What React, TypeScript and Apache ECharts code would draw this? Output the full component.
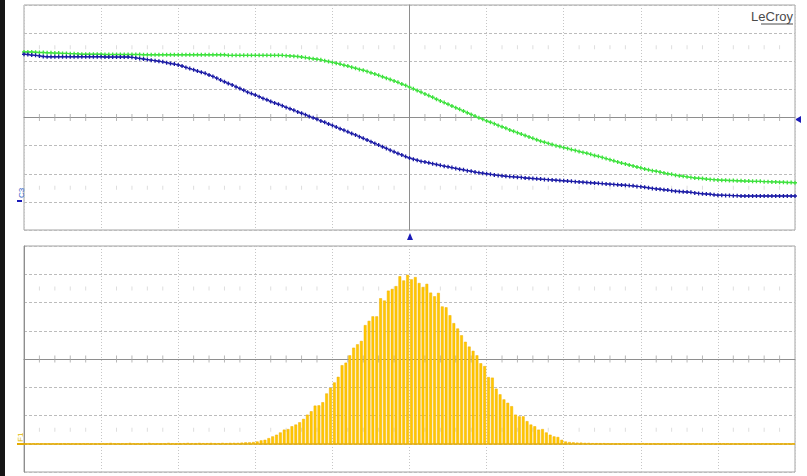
import React, { useEffect, useRef } from "react";
import * as echarts from "echarts";

// Time axis: divisions relative to trigger (-5 .. +5), sample step in divisions
const TIME_START = -5;
const TIME_STEP = 0.05;
const BIN_WIDTH = 0.05;

// Top panel, vertical divisions
const greenTrace = [
  2.33, 2.33, 2.33, 2.32, 2.31, 2.31, 2.30, 2.30, 2.29, 2.29,
  2.28, 2.28, 2.27, 2.27, 2.26, 2.25, 2.25, 2.25, 2.25, 2.25,
  2.25, 2.24, 2.24, 2.24, 2.24, 2.24, 2.24, 2.24, 2.24, 2.24,
  2.24, 2.23, 2.23, 2.23, 2.23, 2.23, 2.23, 2.23, 2.23, 2.23,
  2.23, 2.23, 2.23, 2.23, 2.23, 2.23, 2.23, 2.23, 2.23, 2.23,
  2.23, 2.23, 2.23, 2.21, 2.21, 2.21, 2.21, 2.21, 2.21, 2.21,
  2.21, 2.21, 2.21, 2.21, 2.21, 2.21, 2.21, 2.21, 2.20, 2.19,
  2.18, 2.17, 2.15, 2.13, 2.11, 2.09, 2.07, 2.05, 2.02, 1.99,
  1.96, 1.93, 1.90, 1.86, 1.83, 1.79, 1.75, 1.71, 1.68, 1.64,
  1.59, 1.55, 1.50, 1.45, 1.40, 1.35, 1.30, 1.25, 1.19, 1.14,
  1.08, 1.02, 0.96, 0.90, 0.84, 0.78, 0.72, 0.65, 0.59, 0.53,
  0.47, 0.41, 0.35, 0.29, 0.23, 0.17, 0.11, 0.05, -0.01, -0.06,
  -0.12, -0.17, -0.22, -0.28, -0.33, -0.38, -0.44, -0.49, -0.54, -0.59,
  -0.64, -0.69, -0.74, -0.79, -0.84, -0.88, -0.92, -0.96, -1.00, -1.03,
  -1.07, -1.10, -1.14, -1.17, -1.21, -1.24, -1.27, -1.31, -1.35, -1.38,
  -1.42, -1.46, -1.50, -1.54, -1.58, -1.62, -1.65, -1.69, -1.72, -1.76,
  -1.79, -1.83, -1.86, -1.89, -1.91, -1.94, -1.97, -2.00, -2.02, -2.05,
  -2.07, -2.09, -2.11, -2.13, -2.15, -2.16, -2.17, -2.19, -2.20, -2.21,
  -2.22, -2.23, -2.23, -2.24, -2.24, -2.25, -2.25, -2.26, -2.26, -2.27,
  -2.27, -2.27, -2.28, -2.28, -2.29, -2.29, -2.30, -2.30, -2.31, -2.31,
  -2.32,
];

const blueTrace = [
  2.25, 2.24, 2.22, 2.21, 2.19, 2.17, 2.16, 2.16, 2.16, 2.16,
  2.16, 2.16, 2.16, 2.16, 2.16, 2.16, 2.16, 2.16, 2.16, 2.16,
  2.16, 2.15, 2.15, 2.15, 2.15, 2.15, 2.15, 2.15, 2.14, 2.12,
  2.10, 2.08, 2.06, 2.04, 2.02, 2.00, 1.98, 1.95, 1.92, 1.90,
  1.87, 1.83, 1.78, 1.74, 1.70, 1.65, 1.61, 1.57, 1.51, 1.46,
  1.40, 1.33, 1.27, 1.21, 1.16, 1.09, 1.03, 0.97, 0.90, 0.85,
  0.80, 0.74, 0.68, 0.63, 0.57, 0.52, 0.47, 0.42, 0.36, 0.31,
  0.26, 0.20, 0.15, 0.10, 0.04, -0.01, -0.06, -0.12, -0.17, -0.23,
  -0.28, -0.34, -0.40, -0.45, -0.51, -0.57, -0.62, -0.68, -0.74, -0.80,
  -0.86, -0.92, -0.98, -1.04, -1.10, -1.16, -1.22, -1.28, -1.33, -1.39,
  -1.44, -1.48, -1.52, -1.56, -1.58, -1.61, -1.64, -1.67, -1.70, -1.73,
  -1.75, -1.78, -1.81, -1.84, -1.86, -1.89, -1.91, -1.94, -1.96, -1.98,
  -2.00, -2.02, -2.04, -2.06, -2.07, -2.09, -2.10, -2.11, -2.12, -2.13,
  -2.15, -2.16, -2.17, -2.18, -2.19, -2.20, -2.21, -2.22, -2.23, -2.24,
  -2.25, -2.26, -2.27, -2.28, -2.29, -2.30, -2.31, -2.32, -2.33, -2.34,
  -2.35, -2.36, -2.37, -2.38, -2.39, -2.40, -2.41, -2.42, -2.43, -2.45,
  -2.46, -2.48, -2.50, -2.52, -2.54, -2.55, -2.57, -2.58, -2.60, -2.62,
  -2.63, -2.64, -2.65, -2.66, -2.68, -2.70, -2.71, -2.72, -2.73, -2.75,
  -2.76, -2.76, -2.77, -2.77, -2.78, -2.78, -2.79, -2.79, -2.79, -2.79,
  -2.79, -2.79, -2.79, -2.79, -2.79, -2.79, -2.79, -2.79, -2.79, -2.79,
  -2.79,
];

// Bottom panel histogram, bin heights in divisions (200 bins)
const histogramCounts = [
  0, 0, 0, 0, 0, 0, 0, 0, 0, 0,
  0, 0, 0, 0, 0, 0, 0, 0, 0, 0,
  0, 0, 0.03, 0, 0, 0, 0, 0.03, 0, 0,
  0, 0, 0.03, 0, 0, 0, 0, 0.03, 0, 0,
  0.02, 0.02, 0.03, 0.02, 0.02, 0.03, 0.02, 0.02, 0.03, 0.02,
  0.02, 0.03, 0.02, 0.03, 0.03, 0.03, 0.04, 0.05, 0.05, 0.06,
  0.08, 0.12, 0.14, 0.2, 0.26, 0.32, 0.4, 0.5, 0.52, 0.62,
  0.68, 0.76, 0.88, 1.03, 1.15, 1.35, 1.36, 1.47, 1.78, 1.98,
  2.17, 2.37, 2.78, 2.87, 3.13, 3.4, 3.52, 3.64, 4.2, 4.35,
  4.51, 4.51, 5.15, 5.07, 5.42, 5.48, 5.58, 5.93, 5.78, 5.98,
  5.82, 5.9, 5.69, 5.55, 5.66, 5.35, 5.22, 5.34, 4.86, 4.83,
  4.55, 4.27, 4.08, 3.84, 3.61, 3.44, 3.29, 3.13, 2.85, 2.75,
  2.36, 2.34, 1.95, 1.75, 1.57, 1.45, 1.33, 1.03, 0.97, 0.97,
  0.8, 0.68, 0.62, 0.5, 0.52, 0.4, 0.32, 0.26, 0.24, 0.14,
  0.08, 0.06, 0.05, 0.04, 0.04, 0.03, 0.03, 0.02, 0.02, 0.02,
  0.02, 0, 0, 0, 0, 0, 0, 0, 0, 0,
  0.02, 0, 0, 0, 0, 0, 0, 0, 0, 0,
  0.02, 0, 0, 0, 0, 0, 0, 0, 0, 0,
  0.02, 0, 0, 0, 0, 0, 0, 0, 0, 0,
  0, 0, 0, 0, 0, 0, 0, 0, 0, 0,
];

const GREEN = "#3ee23e";
const BLUE = "#1c1ca6";
const YELLOW = "#ffc800";
const PLUS = "path://M1,0L2,0L2,1L3,1L3,2L2,2L2,3L1,3L1,2L0,2L0,1L1,1Z";

export default function App() {
  const ref = useRef<HTMLDivElement>(null);

  useEffect(() => {
    if (!ref.current) return;
    const chart = echarts.init(ref.current, null, { renderer: "svg" });

    const r = (v: number) => Math.round(v * 1000) / 1000;
    const greenData = greenTrace.map((v, i) => [r(TIME_START + i * TIME_STEP), v]);
    const blueData = blueTrace.map((v, i) => [r(TIME_START + i * TIME_STEP), v]);
    const histData = histogramCounts.map((v, i) => [r(TIME_START + (i + 0.5) * BIN_WIDTH), v]);

    // graticule decorations (minor tick marks)
    const hTicks = (yc: number) => {
      const out: number[][] = [];
      for (let k = -24; k <= 24; k++) if (k % 5 !== 0) out.push([r(k * 0.2), yc]);
      return out;
    };
    const faintTicks = (ys: number[]) => {
      const out: number[][] = [];
      ys.forEach((y) => {
        for (let k = -24; k <= 24; k++) if (k % 5 !== 0) out.push([r(k * 0.2), y]);
      });
      return out;
    };

    const splitX = { show: true, lineStyle: { color: "#c6c6c6", type: [1, 2], width: 1 } };
    const splitY = { show: true, lineStyle: { color: "#bcbcbc", type: [3, 2], width: 1 } };
    const centerLine = { show: true, onZero: true, lineStyle: { color: "#8e8e8e", width: 1 } };
    const tickDeco = {
      type: "scatter",
      silent: true,
      symbol: "rect",
      itemStyle: { color: "#a6a6a6" },
      z: 1,
    };

    const option: any = {
      animation: false,
      backgroundColor: "#ffffff",
      grid: [
        { left: 24, top: 5, width: 771, height: 225, show: true, borderColor: "#a4a4a4", borderWidth: 1, backgroundColor: "#ffffff" },
        { left: 24, top: 246, width: 771, height: 226, show: true, borderColor: "#a4a4a4", borderWidth: 1, backgroundColor: "#ffffff" },
      ],
      xAxis: [
        { type: "value", gridIndex: 0, min: -5, max: 5, interval: 1, axisLine: { ...centerLine, onZeroAxisIndex: 0 }, axisTick: { show: false }, axisLabel: { show: false }, splitLine: splitX },
        { type: "value", gridIndex: 1, min: -5, max: 5, interval: 1, axisLine: { ...centerLine, onZeroAxisIndex: 2 }, axisTick: { show: false }, axisLabel: { show: false }, splitLine: splitX },
      ],
      yAxis: [
        { type: "value", gridIndex: 0, min: -4, max: 4, interval: 1, axisLine: centerLine, axisTick: { show: false }, axisLabel: { show: false }, splitLine: splitY },
        { type: "value", gridIndex: 1, min: -1, max: 7, interval: 1, axisLine: { show: false }, axisTick: { show: false }, axisLabel: { show: false }, splitLine: splitY },
        { type: "value", gridIndex: 1, min: -4, max: 4, interval: 1, position: "left", axisLine: centerLine, axisTick: { show: false }, axisLabel: { show: false }, splitLine: { show: false } },
      ],
      series: [
        { ...tickDeco, xAxisIndex: 0, yAxisIndex: 0, symbolSize: [1, 7], data: hTicks(0) },
        { ...tickDeco, xAxisIndex: 0, yAxisIndex: 0, symbolSize: [1, 4], itemStyle: { color: "#d6d6d6" }, data: faintTicks([2.5, -2.5]) },
        { ...tickDeco, xAxisIndex: 1, yAxisIndex: 1, symbolSize: [1, 7], data: hTicks(3) },
        { ...tickDeco, xAxisIndex: 1, yAxisIndex: 1, symbolSize: [1, 4], itemStyle: { color: "#d6d6d6" }, data: faintTicks([5.5, 0.5]) },
        {
          name: "F1",
          type: "bar",
          xAxisIndex: 1,
          yAxisIndex: 1,
          barWidth: 2.8,
          itemStyle: { color: YELLOW, borderColor: "#f0ae00", borderWidth: 0.5 },
          data: histData,
          z: 3,
          markLine: {
            silent: true,
            symbol: "none",
            label: { show: false },
            lineStyle: { color: "#e3aa00", width: 1.5, type: "solid" },
            data: [{ yAxis: 0 }],
          },
        },
        {
          name: "C2",
          type: "line",
          xAxisIndex: 0,
          yAxisIndex: 0,
          data: greenData,
          symbol: PLUS,
          symbolSize: 4,
          showSymbol: true,
          lineStyle: { color: GREEN, width: 1 },
          itemStyle: { color: GREEN },
          z: 4,
        },
        {
          name: "C3",
          type: "line",
          xAxisIndex: 0,
          yAxisIndex: 0,
          data: blueData,
          symbol: PLUS,
          symbolSize: 4,
          showSymbol: true,
          lineStyle: { color: BLUE, width: 1 },
          itemStyle: { color: BLUE },
          z: 5,
        },
      ],
      graphic: [
        { type: "rect", shape: { x: 0, y: 0, width: 5, height: 476 }, style: { fill: "#151515" }, silent: true },
        {
          type: "text",
          x: 793,
          y: 10,
          style: { text: "LeCroy", fill: "#4a4a4a", font: '13px "Liberation Sans Narrow", "Liberation Sans", Arial', align: "right", verticalAlign: "top" },
        },
        { type: "line", shape: { x1: 761, y1: 24, x2: 793, y2: 24 }, style: { stroke: "#4a4a4a", lineWidth: 1 } },
        { type: "polygon", shape: { points: [[407, 240], [410, 233], [413, 240]] }, style: { fill: "#1a1ab8" } },
        { type: "polygon", shape: { points: [[795, 119.5], [801, 116], [801, 123]] }, style: { fill: "#1a1ab8" } },
        {
          type: "text",
          x: 17,
          y: 198,
          rotation: Math.PI / 2,
          style: { text: "C3", fill: "#2c5cc8", font: '8px "Liberation Sans", Arial', align: "left", verticalAlign: "top" },
        },
        { type: "rect", shape: { x: 17, y: 200, width: 5, height: 2 }, style: { fill: "#1a1ab8" } },
        {
          type: "text",
          x: 16,
          y: 442,
          rotation: Math.PI / 2,
          style: { text: "F1", fill: "#e0b800", font: '8px "Liberation Sans", Arial', align: "left", verticalAlign: "top" },
        },
        { type: "line", shape: { x1: 17, y1: 444, x2: 24, y2: 444 }, style: { stroke: "#e3aa00", lineWidth: 2 } },
      ],
    };

    chart.setOption(option);
    return () => chart.dispose();
  }, []);

  return (
    <div
      ref={ref}
      style={{ position: "fixed", left: 0, top: 0, width: 807, height: 476, background: "#fff" }}
    />
  );
}
